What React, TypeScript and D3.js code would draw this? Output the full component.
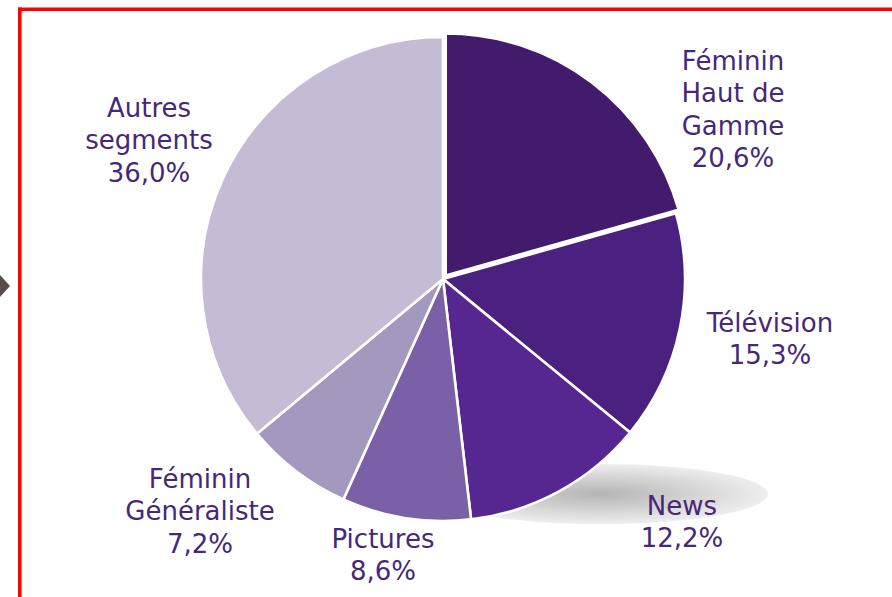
import React from 'react';
import * as d3 from 'd3';

// Segment shares (%), clockwise from 12 o'clock
const segments = ['Féminin Haut de Gamme', 'Télévision', 'News', 'Pictures', 'Féminin Généraliste', 'Autres segments'];
const shares = [20.6, 15.3, 12.2, 8.6, 7.2, 36.0];
// label lines as printed on the chart
const labelLines = [
  ['Féminin', 'Haut de', 'Gamme'],
  ['Télévision'],
  ['News'],
  ['Pictures'],
  ['Féminin', 'Généraliste'],
  ['Autres', 'segments'],
];
const colors = ['#421b6d', '#4b2180', '#562691', '#7a61a7', '#a398bd', '#c4bcd4'];

// layout
const W = 892;
const H = 597;
const cx = 443;
const cy = 279;
const radius = 242;
const explode = 4.5; // first slice pulled out a little
const lineH = 32.3;
// label anchors: centre x, first baseline
const labelAnchor = [
  [733, 70],
  [770, 332],
  [682, 515],
  [383, 548],
  [200, 488],
  [149, 117],
];

const fmt = (v: number) => d3.format('.1f')(v).replace('.', ',') + '%';

export default function App() {
  const pie = d3.pie<number>().sort(null).value(d => d);
  const arcs = pie(shares);
  const arc = d3.arc<d3.PieArcDatum<number>>().innerRadius(0).outerRadius(radius);

  return (
    <svg width={W} height={H} style={{ position: 'absolute', left: 0, top: 0 }}
      fontFamily="'DejaVu Sans', Verdana, sans-serif">
      <defs>
        <radialGradient id="shadow" cx="0.5" cy="0.5" r="0.5">
          <stop offset="0" stopColor="#b4b4b4" />
          <stop offset="0.55" stopColor="#d4d4d4" />
          <stop offset="1" stopColor="#eeeeee" />
        </radialGradient>
      </defs>
      <rect width={W} height={H} fill="#fff" />

      {/* frame */}
      <line x1={19.8} y1={7.5} x2={19.8} y2={H} stroke="#ff0000" strokeWidth={3.6} />
      <line x1={18} y1={9.3} x2={W} y2={9.3} stroke="#ff0000" strokeWidth={3.6} />
      <polygon points="0,275 10,286 0,297" fill="#5b4a49" />

      {/* shadow under the pie */}
      <ellipse cx={600} cy={494} rx={168} ry={30} fill="url(#shadow)" />

      <g transform={`translate(${cx},${cy})`}>
        {arcs.map((a, i) => {
          const mid = (a.startAngle + a.endAngle) / 2;
          const off = i === 0 ? explode : 0;
          return (
            <path key={segments[i]} d={arc(a) || ''}
              transform={`translate(${off * Math.sin(mid)},${-off * Math.cos(mid)})`}
              fill={colors[i]} stroke="#fff" strokeWidth={2.6} strokeLinejoin="round" />
          );
        })}
      </g>

      {labelLines.map((lines, i) => (
        <text key={segments[i]} x={labelAnchor[i][0]} y={labelAnchor[i][1]}
          textAnchor="middle" fontSize={26} fill="#472877">
          {[...lines, fmt(shares[i])].map((t, j) => (
            <tspan key={j} x={labelAnchor[i][0]} dy={j === 0 ? 0 : lineH}>{t}</tspan>
          ))}
        </text>
      ))}
    </svg>
  );
}
